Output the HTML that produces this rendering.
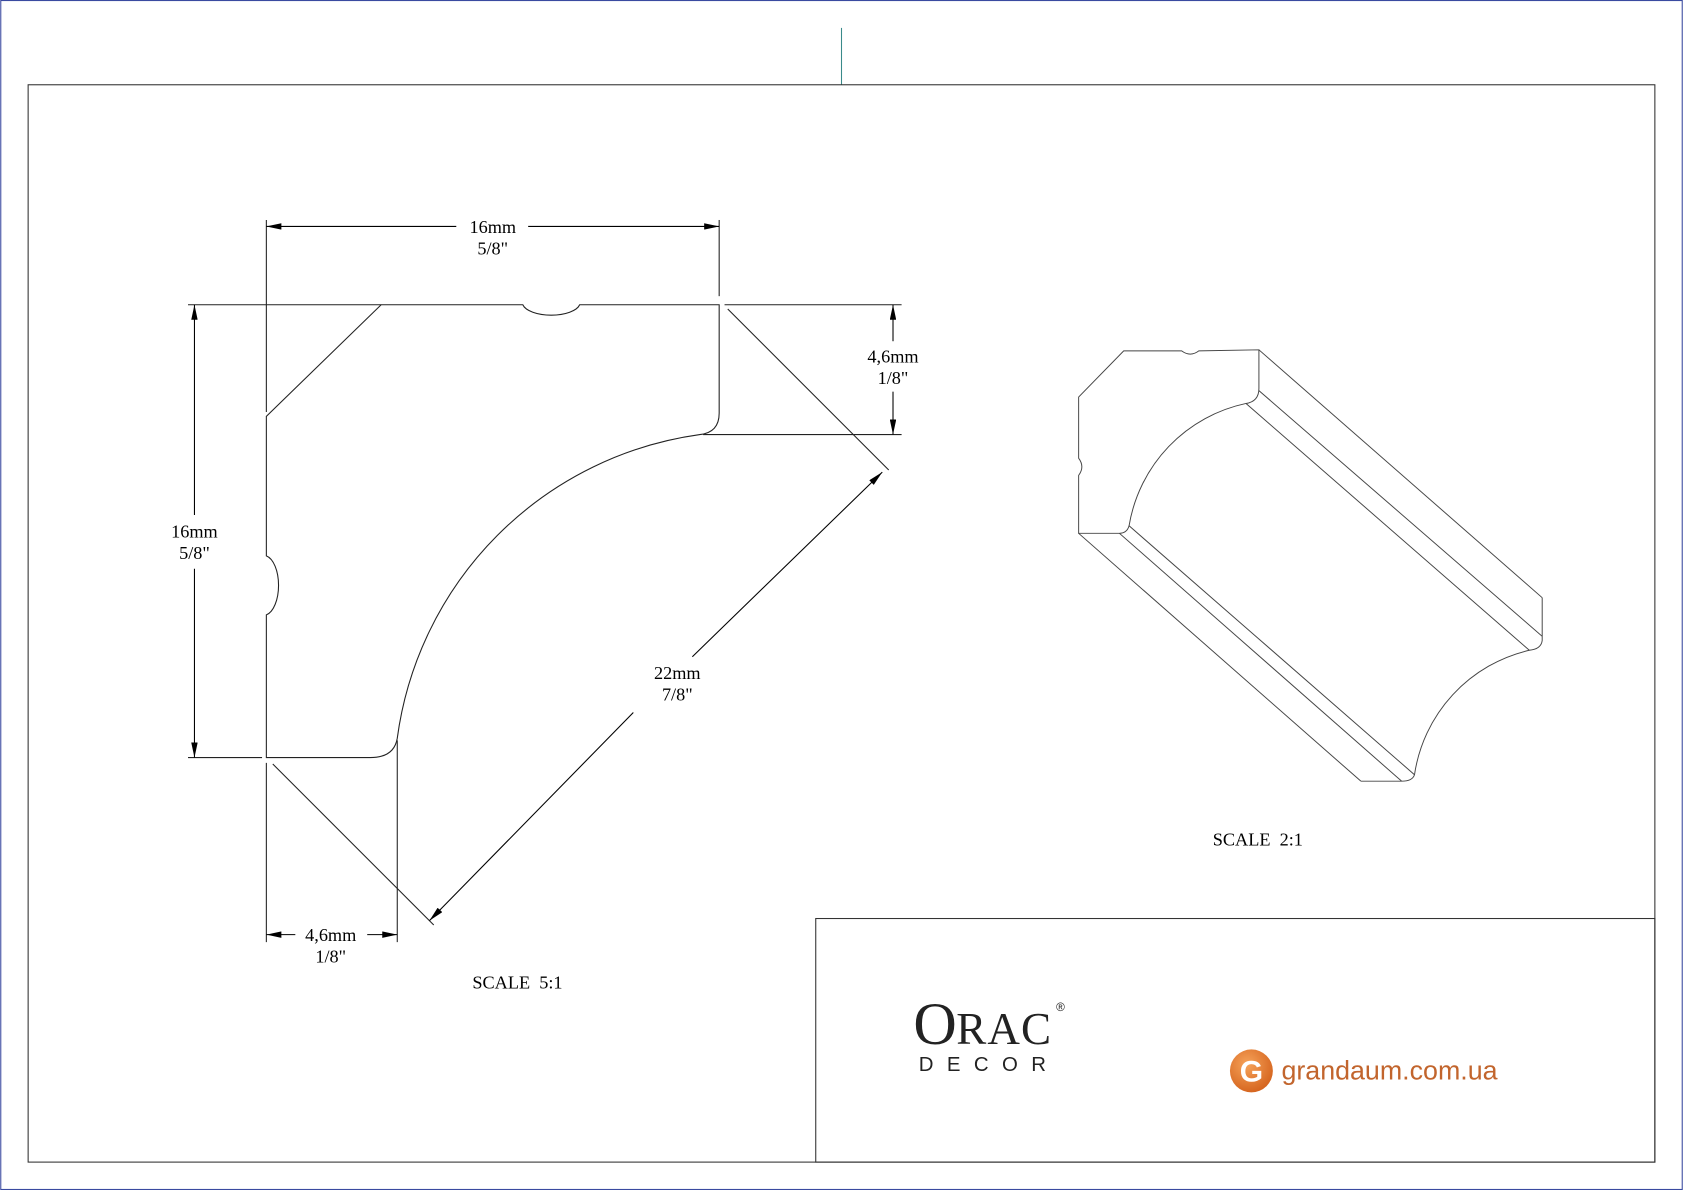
<!DOCTYPE html>
<html><head><meta charset="utf-8"><style>html,body{margin:0;padding:0;background:#fff}svg{display:block}</style></head>
<body>
<svg width="1683" height="1190" viewBox="0 0 1568 1109" xmlns="http://www.w3.org/2000/svg">
<defs>
<marker id="a" viewBox="0 0 14 6" refX="14" refY="3" markerWidth="14" markerHeight="6" markerUnits="userSpaceOnUse" orient="auto-start-reverse"><path d="M0,0 L14,3 L0,6 z" fill="#000"/></marker>
<radialGradient id="g" cx="40%" cy="35%" r="70%"><stop offset="0" stop-color="#f6a35a"/><stop offset="1" stop-color="#d4621c"/></radialGradient>
</defs>
<rect x="0.5" y="0.5" width="1567" height="1108" fill="none" stroke="#3a4aa0" stroke-width="1"/>
<line x1="784" y1="26" x2="784" y2="79" stroke="#3a8a8a" stroke-width="1"/>
<rect x="26" y="79" width="1516" height="1004" fill="none" stroke="#333" stroke-width="1"/>
<rect x="760" y="856" width="782" height="227" fill="none" stroke="#333" stroke-width="1"/>

<g fill="none" stroke="#222" stroke-width="1">
<path d="M355,284 L487,284 A27,12 0 0 0 540,284 L670,284 L670,385 Q670,403 652,405 A330,330 0 0 0 370,688 Q367,706 345,706 L248,706 L248,573 A14,28 0 0 0 248,518 L248,388 Z"/>
<line x1="175" y1="284" x2="355" y2="284"/>
<line x1="675" y1="284" x2="840" y2="284"/>
<line x1="655" y1="405" x2="840" y2="405"/>
<line x1="175" y1="706" x2="244" y2="706"/>
<line x1="248" y1="205" x2="248" y2="384"/>
<line x1="248" y1="711" x2="248" y2="878"/>
<line x1="670" y1="205" x2="670" y2="276"/>
<line x1="370" y1="690" x2="370" y2="878"/>
<line x1="678" y1="288" x2="828" y2="438"/>
<line x1="254" y1="712" x2="404" y2="862"/>
</g>
<g stroke="#000" stroke-width="1" fill="none">
<line x1="248" y1="211" x2="425" y2="211" marker-start="url(#a)"/>
<line x1="492" y1="211" x2="670" y2="211" marker-end="url(#a)"/>
<line x1="181" y1="284" x2="181" y2="480" marker-start="url(#a)"/>
<line x1="181" y1="530" x2="181" y2="706" marker-end="url(#a)"/>
<line x1="832" y1="284" x2="832" y2="318" marker-start="url(#a)"/>
<line x1="832" y1="365" x2="832" y2="405" marker-end="url(#a)"/>
<line x1="248" y1="871" x2="275" y2="871" marker-start="url(#a)"/>
<line x1="342" y1="871" x2="370" y2="871" marker-end="url(#a)"/>
<line x1="822" y1="440" x2="645" y2="612" marker-start="url(#a)"/>
<line x1="590" y1="664" x2="400" y2="858" marker-end="url(#a)"/>
</g>
<g font-family="Liberation Serif, serif" font-size="17" fill="#000" text-anchor="middle" xml:space="preserve">
<text x="459" y="217">16mm</text><text x="459" y="237">5/8"</text>
<text x="181" y="501">16mm</text><text x="181" y="521">5/8"</text>
<text x="832" y="338">4,6mm</text><text x="832" y="358">1/8"</text>
<text x="308" y="877">4,6mm</text><text x="308" y="897">1/8"</text>
<text x="631" y="633">22mm</text><text x="631" y="653">7/8"</text>
<text x="482" y="921" xml:space="preserve">SCALE  5:1</text>
<text x="1172" y="788" xml:space="preserve">SCALE  2:1</text>
</g>

<g fill="none" stroke="#444" stroke-width="0.9">
<path d="M1047,327 L1101,327 Q1109,333 1117,327 L1173,326 L1173,362 Q1173,374 1161,376 A140,140 0 0 0 1052,490 Q1050,497 1043,497 L1005,497 L1005,443 Q1011,435 1005,427 L1005,370 Z"/>
<line x1="1173" y1="326" x2="1437" y2="557"/>
<line x1="1173" y1="364" x2="1437" y2="593"/>
<line x1="1161" y1="376" x2="1425" y2="606"/>
<line x1="1005" y1="497" x2="1268" y2="728"/>
<line x1="1043" y1="497" x2="1306" y2="728"/>
<line x1="1052" y1="490" x2="1318" y2="722"/>
<path d="M1437,557 L1437,597 Q1436,605 1425,606 A140,140 0 0 0 1318,722 Q1316,728 1306,728 L1268,728"/>
</g>

<g font-family="Liberation Serif, serif" fill="#222">
<text x="851" y="973" font-size="56">O</text>
<text x="891" y="973" font-size="42" letter-spacing="1">RAC</text>
<text x="984" y="942" font-size="11" font-family="Liberation Sans, sans-serif">®</text>
</g>
<text x="856" y="998" font-family="Liberation Sans, sans-serif" font-size="19" letter-spacing="12.5" fill="#222">DECOR</text>
<circle cx="1166" cy="998" r="20" fill="url(#g)"/>
<text x="1166" y="1008" font-family="Liberation Sans, sans-serif" font-size="28" font-weight="bold" fill="#fff" text-anchor="middle">G</text>
<text x="1194" y="1006" font-family="Liberation Sans, sans-serif" font-size="25" fill="#c2652d">grandaum.com.ua</text>
</svg>
</body></html>
